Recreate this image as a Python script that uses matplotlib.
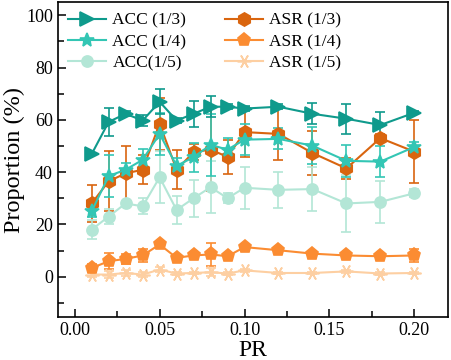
import matplotlib
matplotlib.use("Agg")
import matplotlib.pyplot as plt
from matplotlib.ticker import MultipleLocator

plt.rcParams['font.family'] = ['Liberation Serif', 'DejaVu Serif']
plt.rcParams['mathtext.fontset'] = 'stix'

# poisoning rate
pr = [0.01, 0.02, 0.03, 0.04, 0.05, 0.06, 0.07, 0.08, 0.09, 0.10,
      0.12, 0.14, 0.16, 0.18, 0.20]

# ACC / ASR for three ratios
acc_13 = [46.9, 59.2, 62.3, 59.7, 66.9, 59.7, 62.3, 65.0, 65.0, 64.3,
          65.0, 62.3, 60.4, 58.0, 62.7]
acc_13_err = [0.5, 5.5, 1.0, 2.0, 4.8, 1.0, 5.0, 4.0, 1.0, 0.8,
              1.0, 4.0, 5.8, 4.8, 0.5]
acc_14 = [25.0, 38.5, 40.9, 44.7, 54.6, 42.4, 45.7, 50.4, 48.6, 52.4,
          52.7, 50.1, 44.3, 44.0, 49.6]
acc_14_err = [2.0, 8.0, 2.5, 4.0, 8.0, 3.0, 5.5, 12.0, 4.5, 6.0,
              4.0, 7.0, 6.0, 6.0, 2.0]
acc_15 = [18.0, 23.0, 28.0, 26.9, 38.0, 25.5, 30.0, 34.2, 30.0, 34.0,
          33.2, 33.5, 28.0, 28.6, 31.9]
acc_15_err = [3.5, 3.0, 1.0, 3.0, 10.0, 5.5, 7.0, 10.0, 2.0, 8.0,
              7.0, 8.5, 11.0, 8.0, 1.5]

asr_13 = [28.0, 36.5, 39.5, 40.9, 58.5, 40.9, 47.6, 48.6, 45.8, 55.3,
          54.6, 47.3, 41.4, 53.0, 47.8]
asr_13_err = [7.0, 11.5, 10.5, 5.5, 10.0, 7.5, 3.0, 16.0, 6.5, 9.5,
              10.0, 8.5, 4.0, 1.5, 12.0]
asr_14 = [3.3, 5.9, 6.8, 8.1, 12.3, 7.2, 8.1, 8.5, 7.8, 11.3,
          10.1, 8.8, 8.1, 7.8, 8.1]
asr_14_err = [1.5, 3.0, 2.0, 2.5, 1.0, 1.0, 1.0, 4.3, 1.0, 1.0,
              0.5, 0.5, 0.5, 0.5, 2.5]
asr_15 = [0.8, 0.8, 1.4, 0.8, 2.7, 1.2, 1.4, 1.7, 1.2, 2.4,
          1.4, 1.4, 2.0, 1.2, 1.4]
asr_15_err = [1.0, 1.5, 1.0, 1.0, 1.0, 0.5, 0.5, 1.5, 0.5, 0.5,
              0.5, 0.5, 0.5, 0.5, 0.5]

series = [
    ('ACC (1/3)', acc_13, acc_13_err, '#0f9a8c', '>', 9.5),
    ('ACC (1/4)', acc_14, acc_14_err, '#33c6b4', '*', 10.5),
    ('ACC(1/5)', acc_15, acc_15_err, '#b3e6d6', 'o', 8),
    ('ASR (1/3)', asr_13, asr_13_err, '#d9650f', 'h', 9.5),
    ('ASR (1/4)', asr_14, asr_14_err, '#fb8c32', 'p', 9.5),
    ('ASR (1/5)', asr_15, asr_15_err, '#fdcfa2', (6, 2, 90), 10),
]

fig = plt.figure(figsize=(4.51, 3.6), dpi=100)
ax = fig.add_axes([0.128, 0.119, 0.866, 0.875])

# draw lighter series first so the dark ones stay on top
handles = {}
for label, vals, err, col, mk, ms in reversed(series):
    eb = ax.errorbar(pr, vals, yerr=err, color=col, marker=mk, markersize=ms,
                     linewidth=1.5, elinewidth=1.2, capsize=3.5, capthick=1.2,
                     markeredgewidth=1.2, label=label)
    handles[label] = eb[0]

labels = [s[0] for s in series]
ax.legend([handles[l] for l in labels], labels, loc='upper left', ncol=2,
          frameon=False, fontsize=12.5, handlelength=2.2, labelspacing=0.3,
          columnspacing=2.2, handletextpad=0.35,
          borderaxespad=0.2, bbox_to_anchor=(0.0, 1.0))

ax.set_xlim(-0.01, 0.22)
ax.set_ylim(-15.5, 105)
ax.xaxis.set_minor_locator(MultipleLocator(0.025))
ax.yaxis.set_minor_locator(MultipleLocator(10))
ax.set_xticks([0.0, 0.05, 0.10, 0.15, 0.20])
ax.set_xticklabels(['0.00', '0.05', '0.10', '0.15', '0.20'])
ax.set_yticks([0, 20, 40, 60, 80, 100])
ax.tick_params(which='both', direction='in', top=False, right=False,
               labelsize=13, width=1.1)
ax.tick_params(which='major', length=6)
ax.tick_params(which='minor', length=4)
for sp in ax.spines.values():
    sp.set_linewidth(1.2)

ax.set_xlabel('PR', fontsize=17, labelpad=1)
ax.set_ylabel('Proportion (%)', fontsize=17.5, labelpad=1)

fig.savefig('out.png', dpi=100)
